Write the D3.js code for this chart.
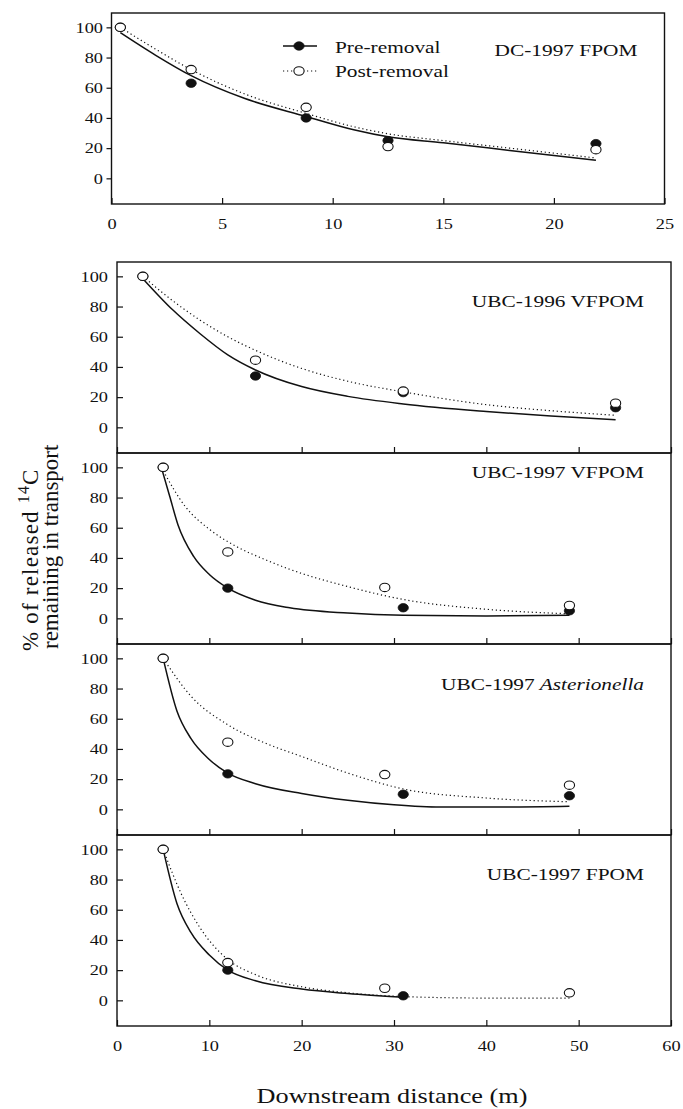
<!DOCTYPE html>
<html>
<head>
<meta charset="utf-8">
<script src="https://cdn.jsdelivr.net/npm/d3@7"></script>
<style>
body { margin: 0; background: #fff; }
text { font-family: "Liberation Serif", "DejaVu Serif", serif; fill: #111; }
</style>
</head>
<body>
<div class="svg-container"></div>
<script>

// ---- data ----
var xTicksTop = [0, 5, 10, 15, 20, 25];
var xTicksLower = [0, 10, 20, 30, 40, 50, 60];
var yTicks = [0, 20, 40, 60, 80, 100];
var panelTitles = ["DC-1997 FPOM", "UBC-1996 VFPOM", "UBC-1997 VFPOM", "UBC-1997 Asterionella", "UBC-1997 FPOM"];
var seriesNames = ["Pre-removal", "Post-removal"];

// DC-1997 FPOM
var dcPreDist = [0.4, 3.6, 8.8, 12.5, 21.9];
var dcPrePct = [100, 63, 40, 25, 23];
var dcPostDist = [0.4, 3.6, 8.8, 12.5, 21.9];
var dcPostPct = [100, 72, 47, 21, 19];
var dcPreFitDist = [0.4, 2, 3.6, 6, 8.8, 11, 12.5, 15, 18, 21.9];
var dcPreFitPct = [96.5, 81.5, 68, 53, 41, 32, 27.5, 23.5, 18.5, 12];
var dcPostFitDist = [0.4, 2, 3.6, 6, 8.8, 11, 12.5, 15, 18, 21.9];
var dcPostFitPct = [100, 85.5, 72, 56, 43, 34, 29.5, 25, 20, 13.5];

// UBC-1996 VFPOM
var v96PreDist = [2.8, 15, 31, 54];
var v96PrePct = [100, 34, 23, 13];
var v96PostDist = [2.8, 15, 31, 54];
var v96PostPct = [100, 44.5, 24, 16];
var v96PreFitDist = [2.8, 6, 9, 12, 15, 20, 25, 31, 40, 47, 54];
var v96PreFitPct = [98.5, 78, 62, 48, 38, 27, 20.5, 15.5, 10.5, 7.5, 5];
var v96PostFitDist = [2.8, 6, 9, 12, 15, 20, 25, 31, 40, 47, 54];
var v96PostFitPct = [100, 84, 71, 60, 51, 39, 30.5, 23.5, 15, 11, 8];

// UBC-1997 VFPOM
var v97PreDist = [5, 12, 31, 49];
var v97PrePct = [100, 20, 7, 5];
var v97PostDist = [5, 12, 29, 49];
var v97PostPct = [100, 44, 20.5, 8.5];
var v97PreFitDist = [4.8, 5.7, 6.6, 8.3, 10, 12, 15, 18.7, 25, 31, 40, 49];
var v97PreFitPct = [100, 81, 62, 41, 29, 20, 12, 7, 3.5, 2, 1.5, 2];
var v97PostFitDist = [4.8, 7.4, 10, 12.8, 16.2, 18.7, 25, 31, 40, 49];
var v97PostFitPct = [100, 74, 59, 48, 38.5, 32.5, 21, 12.5, 6, 3];

// UBC-1997 Asterionella
var astPreDist = [5, 12, 31, 49];
var astPrePct = [100, 23.5, 10, 9];
var astPostDist = [5, 12, 29, 49];
var astPostPct = [100, 44.5, 23, 16];
var astPreFitDist = [5, 6.5, 8, 10, 12, 15, 20, 25, 30, 35, 42, 49];
var astPreFitPct = [100, 65, 47, 33, 24, 17, 10.5, 6, 3, 1.5, 1.5, 2];
var astPostFitDist = [5, 8, 12, 16, 20, 25, 31, 40, 49];
var astPostFitPct = [100, 75, 56, 44, 35, 24, 13.5, 7.5, 5];

// UBC-1997 FPOM
var f97PreDist = [5, 12, 31];
var f97PrePct = [100, 20, 3];
var f97PostDist = [5, 12, 29, 49];
var f97PostPct = [100, 25, 8, 5];
var f97PreFitDist = [5, 6.5, 8, 10, 12, 15, 20, 25, 31];
var f97PreFitPct = [100, 64, 45, 30, 20, 13, 7.5, 4.5, 2];
var f97PostFitDist = [5, 7, 9, 12, 15, 20, 25, 31, 40, 49];
var f97PostFitPct = [100, 70, 48, 27, 17, 9, 5, 2.5, 1.5, 1.5];

function pairs(a, b) { return a.map(function(v, i) { return [v, b[i]]; }); }

var panels = [
    {title: panelTitles[0], pre: pairs(dcPreDist, dcPrePct), post: pairs(dcPostDist, dcPostPct),
     preFit: pairs(dcPreFitDist, dcPreFitPct), postFit: pairs(dcPostFitDist, dcPostFitPct)},
    {title: panelTitles[1], pre: pairs(v96PreDist, v96PrePct), post: pairs(v96PostDist, v96PostPct),
     preFit: pairs(v96PreFitDist, v96PreFitPct), postFit: pairs(v96PostFitDist, v96PostFitPct)},
    {title: panelTitles[2], pre: pairs(v97PreDist, v97PrePct), post: pairs(v97PostDist, v97PostPct),
     preFit: pairs(v97PreFitDist, v97PreFitPct), postFit: pairs(v97PostFitDist, v97PostFitPct)},
    {title: panelTitles[3], pre: pairs(astPreDist, astPrePct), post: pairs(astPostDist, astPostPct),
     preFit: pairs(astPreFitDist, astPreFitPct), postFit: pairs(astPostFitDist, astPostFitPct)},
    {title: panelTitles[4], pre: pairs(f97PreDist, f97PrePct), post: pairs(f97PostDist, f97PostPct),
     preFit: pairs(f97PreFitDist, f97PreFitPct), postFit: pairs(f97PostFitDist, f97PostFitPct)}
];

// ---- layout ----
var width = 683;
var height = 1109;
var SX = 1.22;            // the scanned figure is a bit wider than tall
var panelH = 191;
var panelTops = [13, 262, 453, 644, 835];
var titleDrop = [43, 45, 25, 46, 45];
var ink = "#111";

var svg = d3.select(".svg-container").append("svg")
    .attr("width", width)
    .attr("height", height);

function wideText(g, x, y, size, anchor) {
    return g.append("text")
        .attr("transform", "translate(" + x + "," + y + ") scale(" + SX + ",1)")
        .attr("font-size", size)
        .attr("text-anchor", anchor);
}

function marker(g, cx, cy, filled) {
    g.append("ellipse")
        .attr("cx", cx).attr("cy", cy)
        .attr("rx", 4.2 * SX).attr("ry", 4.2)
        .attr("fill", filled ? ink : "#fff")
        .attr("stroke", ink)
        .attr("stroke-width", filled ? 0.8 : 1.1);
}

panels.forEach(function(p, i) {
    var top = panelTops[i];
    var left = i == 0 ? 111.5 : 117;
    var right = i == 0 ? 664.5 : 671;

    var x = d3.scaleLinear().domain(i == 0 ? [0, 25] : [0, 60]).range([left, right]);
    var y = d3.scaleLinear().domain([-17, 109.5]).range([top + panelH, top]);

    var g = svg.append("g");

    // Y axis: outward ticks on the top panel, inward on the stacked ones
    var ya = g.append("g")
        .attr("transform", "translate(" + left + ",0)")
        .call(d3.axisLeft(y).tickValues(yTicks)
            .tickSize(i == 0 ? 5 : -6)
            .tickPadding(i == 0 ? 3.5 : 9));
    ya.select(".domain").remove();
    ya.attr("font-family", null).attr("font-size", 15);
    ya.selectAll("line").attr("stroke", ink).attr("stroke-width", 1.2);
    ya.selectAll("text")
        .attr("x", -(i == 0 ? 8.5 : 9) / SX)
        .attr("transform", "scale(" + SX + ",1)");

    // X axis
    var xa = g.append("g")
        .attr("transform", "translate(0," + (top + panelH) + ")")
        .call(d3.axisBottom(x)
            .tickValues(i == 0 ? xTicksTop : xTicksLower)
            .tickSize(-6).tickPadding(14)
            .tickFormat((i == 0 || i == 4) ? d3.format("d") : ""));
    xa.select(".domain").remove();
    xa.attr("font-family", null).attr("font-size", 15);
    xa.selectAll("line").attr("stroke", ink).attr("stroke-width", 1.2);
    xa.selectAll("text").attr("transform", "scale(" + SX + ",1)");

    // frame
    g.append("rect")
        .attr("x", left).attr("y", top)
        .attr("width", right - left).attr("height", panelH)
        .attr("fill", "none")
        .attr("stroke", ink)
        .attr("stroke-width", 1.4);

    // fitted curves
    var line = d3.line()
        .x(function(d) { return x(d[0]); })
        .y(function(d) { return y(d[1]); })
        .curve(d3.curveMonotoneX);

    g.append("path")
        .datum(p.postFit)
        .attr("d", line)
        .attr("fill", "none")
        .attr("stroke", ink)
        .attr("stroke-width", 1.2)
        .attr("stroke-dasharray", "1.2,2.8");

    g.append("path")
        .datum(p.preFit)
        .attr("d", line)
        .attr("fill", "none")
        .attr("stroke", ink)
        .attr("stroke-width", 1.5);

    // points
    p.pre.forEach(function(d) { marker(g, x(d[0]), y(d[1]), true); });
    p.post.forEach(function(d) { marker(g, x(d[0]), y(d[1]), false); });

    // panel title
    var t = wideText(g, right - 27, top + titleDrop[i], 17.5, "end");
    p.title.split(" ").forEach(function(w, k) {
        t.append("tspan")
            .attr("font-style", w == "Asterionella" ? "italic" : null)
            .text((k > 0 ? " " : "") + w);
    });

    // Legend in the top panel
    if (i == 0) {
        var lg = g.append("g");
        lg.append("line")
            .attr("x1", 283).attr("x2", 317).attr("y1", 46).attr("y2", 46)
            .attr("stroke", ink).attr("stroke-width", 1.5);
        marker(lg, 299, 46, true);
        wideText(lg, 335, 52.5, 17.5, "start").text(seriesNames[0]);

        lg.append("line")
            .attr("x1", 283).attr("x2", 317).attr("y1", 71).attr("y2", 71)
            .attr("stroke", ink).attr("stroke-width", 1.2)
            .attr("stroke-dasharray", "1.2,2.8");
        marker(lg, 299, 71, false);
        wideText(lg, 335, 77, 17.5, "start").text(seriesNames[1]);
    }
});

// Y axis title
var yt1 = svg.append("text")
    .attr("transform", "translate(38,651) rotate(-90)")
    .attr("font-size", 23)
    .attr("letter-spacing", 1.2)
    .attr("text-anchor", "start");
yt1.append("tspan").text("% of released ");
yt1.append("tspan").attr("font-size", 16).attr("dy", -9).text("14");
yt1.append("tspan").attr("dy", 9).text("C");

svg.append("text")
    .attr("transform", "translate(58,649) rotate(-90)")
    .attr("font-size", 23)
    .attr("text-anchor", "start")
    .text("remaining in transport");

// X axis title
wideText(svg, 392, 1103, 21.5, "middle").text("Downstream distance (m)");

</script>
</body>
</html>
